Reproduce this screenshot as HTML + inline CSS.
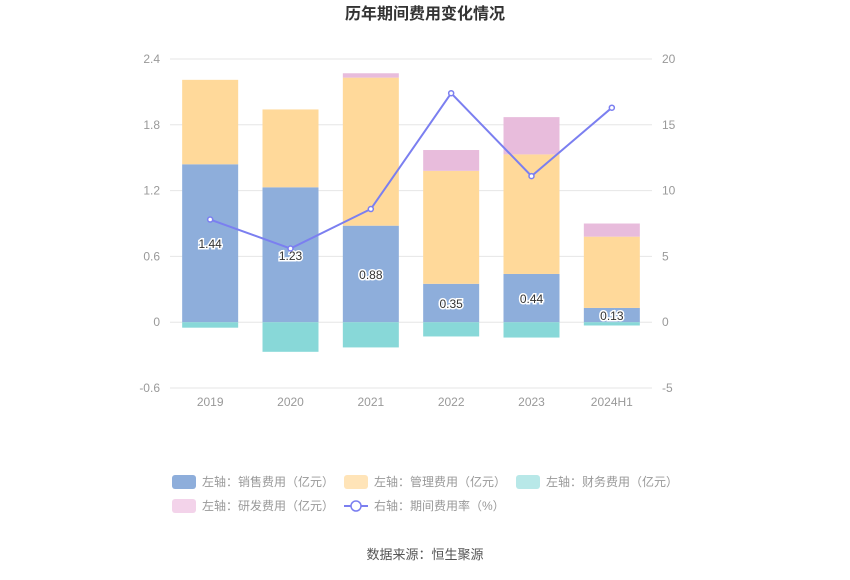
<!DOCTYPE html>
<html><head><meta charset="utf-8"><style>
body{margin:0;background:#fff;font-family:"Liberation Sans","Noto Sans CJK SC",sans-serif;}
#wrap{position:relative;width:850px;height:575px;}
</style></head><body>
<div id="wrap">
<svg id="chart" width="850" height="575"></svg>
</div>
<script>
const categories=["2019","2020","2021","2022","2023","2024H1"];
const sales=[1.44,1.23,0.88,0.35,0.44,0.13];
const mgmt=[0.77,0.71,1.35,1.03,1.09,0.65];
const finance=[-0.05,-0.27,-0.23,-0.13,-0.14,-0.03];
const rd=[0,0,0.04,0.19,0.34,0.12];
const rate=[7.8,5.6,8.6,17.4,11.1,16.3];
const leftTicks=[2.4,1.8,1.2,0.6,0,-0.6];
const rightTicks=[20,15,10,5,0,-5];
const NS="http://www.w3.org/2000/svg";
const svg=document.getElementById('chart');
const X0=170,X1=652,YT=59,YB=388;
const yL=v=>YB-(v-(-0.6))/(3.0)*(YB-YT);
const yR=v=>YB-(v-(-5))/25*(YB-YT);
const bw=(X1-X0)/categories.length;
const xC=i=>X0+bw*(i+0.5);
function el(t,a,txt){const e=document.createElementNS(NS,t);for(const k in a)e.setAttribute(k,a[k]);if(txt!=null)e.textContent=txt;svg.appendChild(e);return e;}
let t=el('text',{x:425,y:19,'text-anchor':'middle','font-size':16,'font-weight':'bold',fill:'#333'},'历年期间费用变化情况');


leftTicks.forEach((v,i)=>{
 const y=yL(v);
 const g=el('line',{x1:X0,x2:X1,y1:y,y2:y,stroke:'#e6e6e6'});
 
 
 const a=el('text',{x:160,y:y+4,'text-anchor':'end','font-size':12,fill:'#999'},String(v));
 
 
 const b=el('text',{x:662,y:yR(rightTicks[i])+4,'text-anchor':'start','font-size':12,fill:'#999'},String(rightTicks[i]));
 
 
});
categories.forEach((c,i)=>{
 const cx=xC(i),w=56,x=cx-w/2;
 const segs=[[0,sales[i],'#8eaedb','sales'],[sales[i],sales[i]+mgmt[i],'#ffd99a','mgmt'],[sales[i]+mgmt[i],sales[i]+mgmt[i]+rd[i],'#e8bcdc','rd'],[finance[i],0,'#88d8d8','finance']];
 segs.forEach(s=>{
  if(s[1]-s[0]<=0)return;
  const r=el('rect',{x:x,y:yL(s[1]),width:w,height:yL(s[0])-yL(s[1]),fill:s[2]});
  
  
 });
 const l=el('text',{x:cx,y:yL(sales[i]/2)+5,'text-anchor':'middle','font-size':12,fill:'#333',stroke:'#fff','stroke-width':3,'paint-order':'stroke'},sales[i].toFixed(2));
 
 
 const xl=el('text',{x:cx,y:406,'text-anchor':'middle','font-size':12,fill:'#999'},c);
 
 
});
const pl=el('polyline',{points:rate.map((v,i)=>xC(i)+','+yR(v)).join(' '),fill:'none',stroke:'#7b7ff0','stroke-width':2});


rate.forEach((v,i)=>{
 const p=el('circle',{cx:xC(i),cy:yR(v),r:2.5,fill:'#fff',stroke:'#7b7ff0','stroke-width':1.5});
 
 
});
const legend=[[178,482,'rect','#8eaedb','左轴：销售费用（亿元）'],[350,482,'rect','#ffe4b8','左轴：管理费用（亿元）'],[522,482,'rect','#b8e8e8','左轴：财务费用（亿元）'],[178,506,'rect','#f3d3ea','左轴：研发费用（亿元）'],[350,506,'line','#7b7ff0','右轴：期间费用率（%）']];
legend.forEach(L=>{
 let m;
 if(L[2]==='rect'){m=el('rect',{x:L[0]-6,y:L[1]-7,width:24,height:14,rx:3,fill:L[3]});}
 else{el('line',{x1:L[0]-6,x2:L[0]+18,y1:L[1],y2:L[1],stroke:L[3],'stroke-width':2});m=el('circle',{cx:L[0]+6,cy:L[1],r:5,fill:'#fff',stroke:L[3],'stroke-width':1.5});}
 
 
 const tx=el('text',{x:L[0]+24,y:L[1]+4,'font-size':12,fill:'#999'},L[4]);
 
 
});
const src=el('text',{x:425,y:559,'text-anchor':'middle','font-size':13,fill:'#555'},'数据来源：恒生聚源');


</script>
</body></html>
